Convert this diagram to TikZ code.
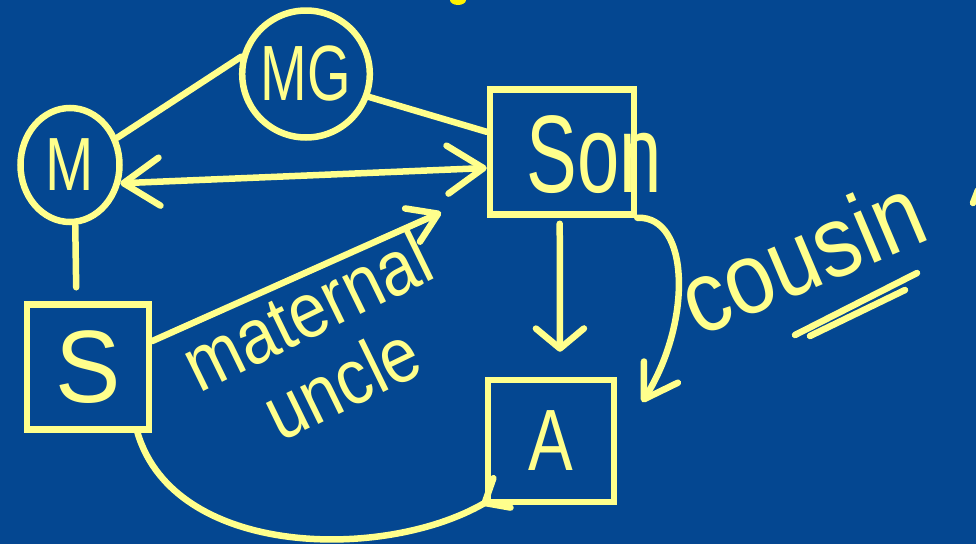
\documentclass[tikz,border=0pt]{standalone}
\usepackage{fontspec}
\setmainfont{Liberation Sans}
\usetikzlibrary{arrows.meta,shapes.geometric}
\definecolor{board}{RGB}{4,71,145}
\definecolor{chalk}{RGB}{255,255,140}
\newcommand{\hand}[2][1.3]{\scalebox{1}[#1]{#2}}
\begin{document}
\begin{tikzpicture}[x=1pt,y=-1pt,
  every node/.style={text=chalk,inner sep=0pt},
  person/.style={draw=chalk,line width=6.5pt,ellipse},
  kid/.style={draw=chalk,line width=6.5pt,rectangle},
  link/.style={draw=chalk,line width=6.5pt,line cap=round,line join=round},
  barbed/.style={-{Straight Barb[round,length=#1,width=1.3*#1]}},
  >={Straight Barb[round,length=36pt,width=48pt]}]
\useasboundingbox (0,0) rectangle (976,544);
\fill[board] (0,0) rectangle (976,544);

\node[person,minimum width=99pt,minimum height=114pt,font=\fontsize{58}{58}\selectfont] (M) at (70,165) {\hand{M}};
\node[person,minimum width=123pt,minimum height=127pt,font=\fontsize{56}{56}\selectfont] (MG) at (306,74) {\hand[1.4]{MG}};
\node[kid,minimum width=144pt,minimum height=125pt] (Son) at (562,152) {};
\node[font=\fontsize{76}{76}\selectfont] (sonlbl) at (594,155) {\hand[1.45]{Son}};
\node[kid,minimum width=122pt,minimum height=125pt,font=\fontsize{98}{98}\selectfont] (S) at (88,367) {\hand[1.05]{S}};
\node[kid,minimum width=126pt,minimum height=122pt,font=\fontsize{67}{67}\selectfont] (A) at (551,441) {\hand{A}};

\node[font=\fontsize{68}{80}\selectfont,rotate=26,align=center] (uncle) at (324,346) {\hand[1.15]{maternal}\\\hand[1.15]{uncle}};
\node[font=\fontsize{88}{88}\selectfont,rotate=23,anchor=base west] (cousin) at (698,338) {\hand[1.15]{cousin}};

\draw[link] (M.30) -- (MG.165);
\draw[link] (MG.-20) -- (Son.165);
\draw[link,<->] (M.-20) -- (Son.192);
\draw[link,shorten >=14pt] (M.-85) -- (S.100);
\draw[link,barbed=28pt,shorten >=50pt] (S.22) -- (Son.208);
\draw[link,-{Straight Barb[round,length=20pt,width=48pt]},shorten <=6pt,shorten >=25pt] (Son.-92) -- (A.82);
\draw[link,-{Straight Barb[round,length=32pt,width=40pt]}] (Son.south east) .. controls +(53,-2) and +(50,-80) .. ([xshift=25pt,yshift=39pt]A.east);
\draw[link,-{Straight Barb[round,reversed,length=20pt,width=34pt]}] (S.-53) .. controls +(37,125) and +(-120,70) .. ([xshift=20pt,yshift=14pt]A.south west);

\draw[link] (795,335) -- (917,273);
\draw[link] (810,336) -- (905,290);
\draw[link] (973,203) -- (978,190);
\fill[yellow] (458,0) ellipse [x radius=8,y radius=5];
\end{tikzpicture}
\end{document}
